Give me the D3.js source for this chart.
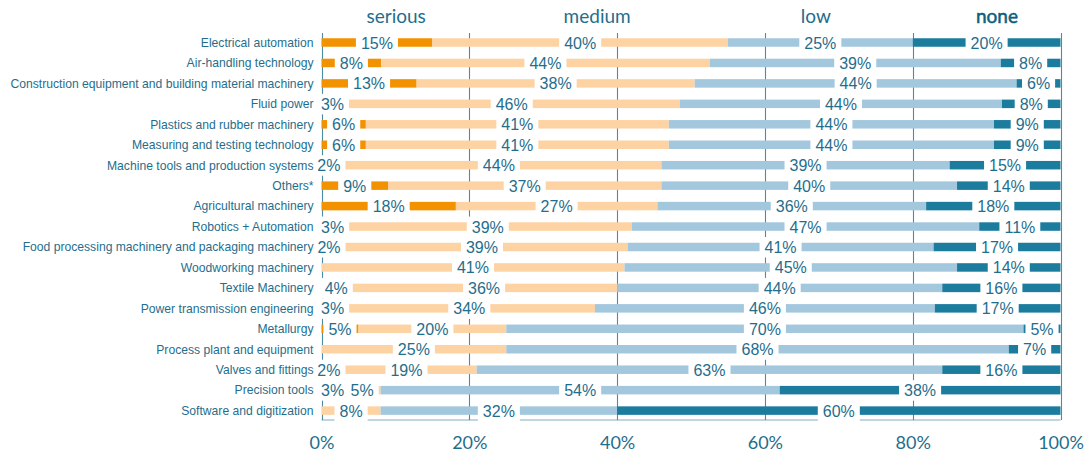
<!DOCTYPE html>
<html>
<head>
<meta charset="utf-8">
<script src="https://cdn.jsdelivr.net/npm/d3@7"></script>
<style>
  body { margin: 0; background: #fff; }
  svg { display: block; }
</style>
</head>
<body>
<div id="chart"></div>
<script>
// data (percent of answers per sector)
var categories = [
    "Electrical automation",
    "Air-handling technology",
    "Construction equipment and building material machinery",
    "Fluid power",
    "Plastics and rubber machinery",
    "Measuring and testing technology",
    "Machine tools and production systems",
    "Others*",
    "Agricultural machinery",
    "Robotics + Automation",
    "Food processing machinery and packaging machinery",
    "Woodworking machinery",
    "Textile Machinery",
    "Power transmission engineering",
    "Metallurgy",
    "Process plant and equipment",
    "Valves and fittings",
    "Precision tools",
    "Software and digitization"
];
var serious = [15, 8, 13, 3, 6, 6, 2, 9, 18, 3, 2, 0, 4, 3, 5, 0, 2, 3, 0];
var medium  = [40, 44, 38, 46, 41, 41, 44, 37, 27, 39, 39, 41, 36, 34, 20, 25, 19, 5, 8];
var low     = [25, 39, 44, 44, 44, 44, 39, 40, 36, 47, 41, 45, 44, 46, 70, 68, 63, 54, 32];
var none    = [20, 8, 6, 8, 9, 9, 15, 14, 18, 11, 17, 14, 16, 17, 5, 7, 16, 38, 60];

var levels = ["serious", "medium", "low", "none"];
var tickValues = [0, 0.2, 0.4, 0.6, 0.8, 1];

var width = 1089, height = 454;
var colors = {
    serious: "#f39200",
    medium: "#fed3a4",
    low: "#a3c8de",
    none: "#1b7c9e"
};
var textColor = "#1f6e8c";
var gridColor = "#4a8ca7";
// where the column headers sit, as share of the axis
var headerAt = {serious: 0.101, medium: 0.373, low: 0.669, none: 0.914};

var table = categories.map(function(c, i) {
    return {
        category: c,
        serious: serious[i],
        medium: medium[i],
        low: low[i],
        none: none[i]
    };
});

var series = d3.stack()
    .keys(levels)
    .offset(d3.stackOffsetExpand)(table);

var x = d3.scaleLinear().domain([0, 1]).range([321.5, 1060.5]);
var y = d3.scalePoint().domain(categories).range([42.5, 410.6]);
var barH = 8.5;
var gridTop = 33, gridBottom = 420;

var svg = d3.select("#chart").append("svg")
    .attr("width", width)
    .attr("height", height);

// grid lines + baseline
svg.append("g")
    .selectAll("line")
    .data(tickValues)
    .enter()
    .append("line")
    .attr("x1", function(d) { return Math.round(x(d)) + 0.5; })
    .attr("x2", function(d) { return Math.round(x(d)) + 0.5; })
    .attr("y1", gridTop)
    .attr("y2", gridBottom)
    .attr("stroke", gridColor)
    .attr("stroke-width", 1.1);

svg.append("line")
    .attr("x1", x(0))
    .attr("x2", x(1))
    .attr("y1", gridBottom)
    .attr("y2", gridBottom)
    .attr("stroke", gridColor)
    .attr("stroke-opacity", 0.7)
    .attr("stroke-width", 1);

// bars
var layer = svg.append("g")
    .selectAll("g")
    .data(series)
    .enter()
    .append("g")
    .attr("fill", function(d) { return colors[d.key]; });

layer.selectAll("rect")
    .data(function(d) { return d; })
    .enter()
    .append("rect")
    .attr("x", function(d) { return x(d[0]); })
    .attr("width", function(d) { return x(d[1]) - x(d[0]); })
    .attr("y", function(d) { return y(d.data.category) - barH / 2; })
    .attr("height", barH);

// value labels on white boxes
var labels = [];
series.forEach(function(s) {
    s.forEach(function(d) {
        var v = d.data[s.key];
        if (v > 0) {
            labels.push({
                cx: (x(d[0]) + x(d[1])) / 2,
                cy: y(d.data.category),
                text: v + "%"
            });
        }
    });
});

var lab = svg.append("g")
    .selectAll("g")
    .data(labels)
    .enter()
    .append("g");

var boxes = lab.append("rect").attr("fill", "#fff");
var texts = lab.append("text")
    .attr("x", function(d) { return d.cx; })
    .attr("y", function(d) { return d.cy + 6; })
    .attr("text-anchor", "middle")
    .attr("font-family", "'Liberation Sans', Arial, sans-serif")
    .attr("font-size", "16px")
    .attr("fill", textColor)
    .text(function(d) { return d.text; });

texts.each(function(d) { d.w = this.getComputedTextLength(); });
boxes
    .attr("x", function(d) { return d.cx - d.w / 2 - 5; })
    .attr("width", function(d) { return d.w + 10; })
    .attr("y", function(d) { return d.cy - 10; })
    .attr("height", 20.5);

// category names
svg.append("g")
    .selectAll("text")
    .data(categories)
    .enter()
    .append("text")
    .attr("x", x(0) - 8)
    .attr("y", function(d) { return y(d) + 4.3; })
    .attr("text-anchor", "end")
    .attr("font-family", "'Liberation Sans', Arial, sans-serif")
    .attr("font-size", "12.15px")
    .attr("fill", textColor)
    .text(function(d) { return d; });

// column headers
svg.append("g")
    .selectAll("text")
    .data(levels)
    .enter()
    .append("text")
    .attr("x", function(d) { return x(headerAt[d]); })
    .attr("y", 23)
    .attr("text-anchor", "middle")
    .attr("font-family", "Lato, 'Open Sans', sans-serif")
    .attr("font-size", "19px")
    .attr("fill", function(d) { return d === "none" ? "#0e5f7d" : textColor; })
    .attr("stroke", function(d) { return d === "none" ? "#0e5f7d" : "none"; })
    .attr("stroke-width", 0.5)
    .text(function(d) { return d; });

// x axis labels
var xAxis = d3.axisBottom(x)
    .tickValues(tickValues)
    .tickFormat(d3.format(".0%"))
    .tickSize(0)
    .tickPadding(0);

var gX = svg.append("g")
    .attr("transform", "translate(0,436)")
    .call(xAxis);
gX.select(".domain").remove();
gX.selectAll("text")
    .attr("dy", "0.71em")
    .attr("font-family", "Lato, 'Open Sans', sans-serif")
    .attr("font-size", "18px")
    .attr("fill", textColor);
</script>
</body>
</html>
